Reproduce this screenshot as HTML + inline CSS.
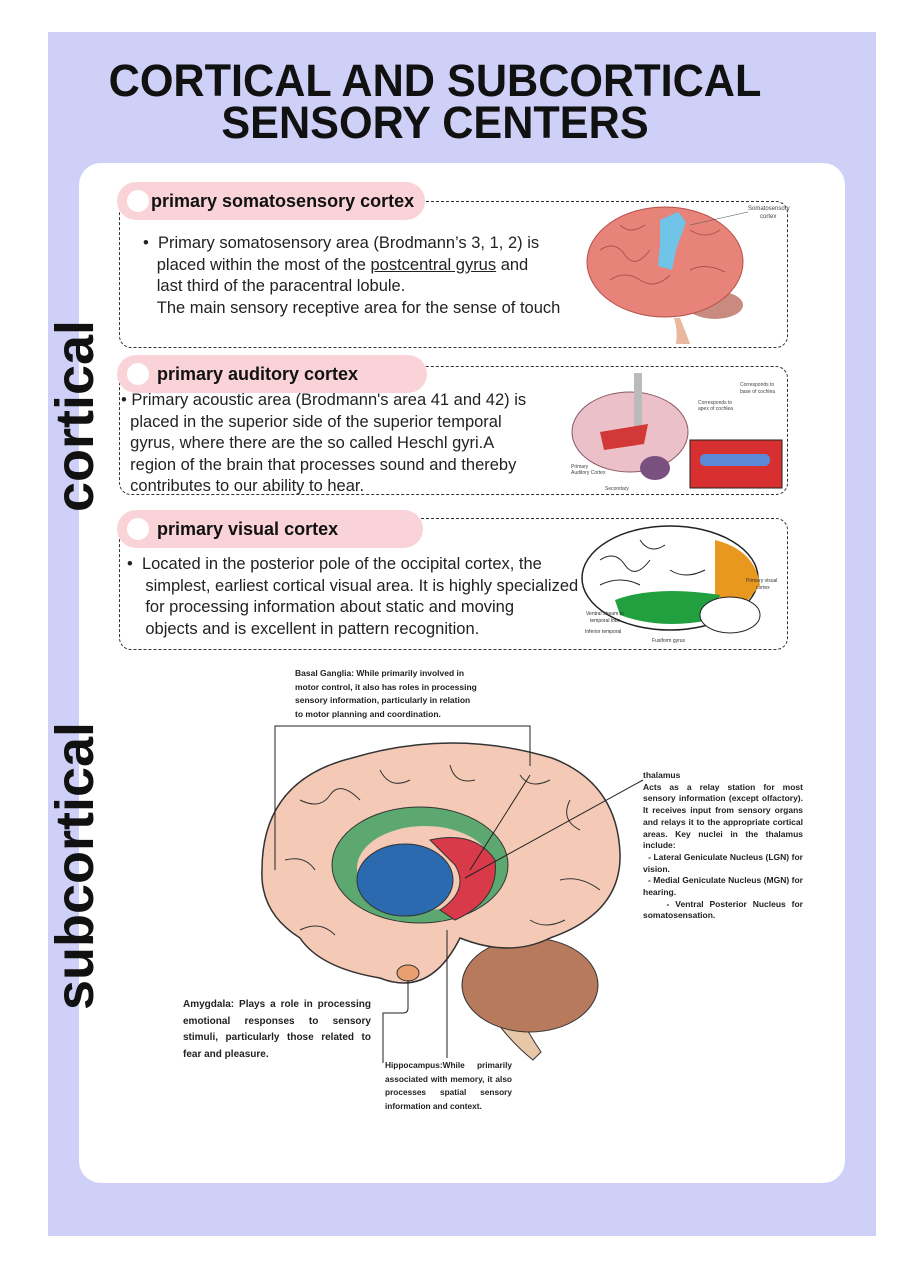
<!DOCTYPE html>
<html><head><meta charset="utf-8"><style>
*{margin:0;padding:0;box-sizing:border-box}
body{width:924px;height:1280px;background:#fff;position:relative;overflow:hidden;font-family:"Liberation Sans",sans-serif;color:#111}
.panel{position:absolute;left:48px;top:32px;width:828px;height:1204px;background:#cfd0f8}
.card{position:absolute;left:79px;top:163px;width:766px;height:1020px;background:#fff;border-radius:22px}
.title{position:absolute;left:60px;width:750px;text-align:center;font-weight:bold;font-size:45px;line-height:42px;transform:scaleX(0.96)}
.vert{position:absolute;font-weight:bold;font-size:54px;transform:rotate(-90deg);transform-origin:center;white-space:nowrap;text-align:center}
.box{position:absolute;border:1.3px dashed #333;border-radius:12px}
.pill{position:absolute;background:#f9d3d8;border-radius:20px;font-weight:bold;font-size:18px;padding-left:34px;line-height:38px}
.pill:before{content:"";position:absolute;left:10px;top:8px;width:22px;height:22px;border-radius:50%;background:#fff}
.txt{position:absolute;font-size:16.5px;line-height:21.5px;color:#222}
.sm{position:absolute;font-size:9px;line-height:13.5px;font-weight:bold;color:#222}
</style></head><body>
<div class="panel"></div>
<div class="card"></div>
<div class="title" style="top:60px">CORTICAL AND SUBCORTICAL</div>
<div class="title" style="top:102px">SENSORY CENTERS</div>
<div class="vert" style="left:-25px;top:385px;width:200px">cortical</div>
<div class="vert" style="left:-75px;top:835px;width:300px">subcortical</div>

<div class="box" style="left:119px;top:201px;width:669px;height:147px"></div>
<div class="pill" style="left:117px;top:182px;width:308px">primary somatosensory cortex</div>
<div class="txt" style="left:143px;top:233px">•&nbsp; Primary somatosensory area (Brodmann’s 3, 1, 2) is<br>&nbsp;&nbsp;&nbsp;placed within the most of the <u>postcentral gyrus</u> and<br>&nbsp;&nbsp;&nbsp;last third of the paracentral lobule.<br>&nbsp;&nbsp;&nbsp;The main sensory receptive area for the sense of touch</div>

<div class="box" style="left:119px;top:366px;width:669px;height:129px"></div>
<div class="pill" style="left:117px;top:355px;width:310px;padding-left:40px">primary auditory cortex</div>
<div class="txt" style="left:121px;top:390px">• Primary acoustic area (Brodmann's area 41 and 42) is<br>&nbsp;&nbsp;placed in the superior side of the superior temporal<br>&nbsp;&nbsp;gyrus, where there are the so called Heschl gyri.A<br>&nbsp;&nbsp;region of the brain that processes sound and thereby<br>&nbsp;&nbsp;contributes to our ability to hear.</div>

<div class="box" style="left:119px;top:518px;width:669px;height:132px"></div>
<div class="pill" style="left:117px;top:510px;width:306px;padding-left:40px">primary visual cortex</div>
<div class="txt" style="left:127px;top:554px">•&nbsp; Located in the posterior pole of the occipital cortex, the<br>&nbsp;&nbsp;&nbsp;&nbsp;simplest, earliest cortical visual area. It is highly specialized<br>&nbsp;&nbsp;&nbsp;&nbsp;for processing information about static and moving<br>&nbsp;&nbsp;&nbsp;&nbsp;objects and is excellent in pattern recognition.</div>

<svg style="position:absolute;left:0;top:0" width="924" height="1280">
<path d="M680 318 q8 20 10 26 l-14 0 q2-14 -2-26z" fill="#e9b89e"/>
<ellipse cx="715" cy="305" rx="28" ry="14" fill="#c98a80"/>
<ellipse cx="665" cy="262" rx="78" ry="55" fill="#e8837a" stroke="#b5504a"/>
<g fill="none" stroke="#b5504a" stroke-width="1"><path d="M600 250 q15 -10 25 5 t25 -5"/><path d="M610 280 q15 -10 30 0 t30 -5"/><path d="M690 230 q15 10 30 0"/><path d="M690 270 q15 -8 35 2"/><path d="M620 225 q10 10 25 0"/></g>
<path d="M660 220 l18 -8 l8 10 l-10 28 l-4 20 l-14 -4 l2-22z" fill="#6fc4e8"/>
<text x="748" y="210" font-size="6" fill="#444" font-family="Liberation Sans">Somatosensory</text>
<text x="760" y="218" font-size="6" fill="#444" font-family="Liberation Sans">cortex</text>
<line x1="690" y1="225" x2="748" y2="212" stroke="#555" stroke-width=".6"/>
<ellipse cx="630" cy="432" rx="58" ry="40" fill="#ecc0c8" stroke="#8a5a66"/>
<rect x="634" y="373" width="8" height="60" fill="#bbb"/>
<path d="M600 432 l48 -8 l-4 20 l-40 6z" fill="#d23838"/>
<ellipse cx="655" cy="468" rx="15" ry="12" fill="#7a5080"/>
<rect x="690" y="440" width="92" height="48" fill="#d83030" stroke="#222"/>
<rect x="700" y="454" width="70" height="12" rx="5" fill="#5a8ad8"/>
<text x="740" y="386" font-size="5" fill="#444" font-family="Liberation Sans">Corresponds to</text>
<text x="740" y="393" font-size="5" fill="#444" font-family="Liberation Sans">base of cochlea</text>
<text x="698" y="404" font-size="5" fill="#444" font-family="Liberation Sans">Corresponds to</text>
<text x="698" y="410" font-size="5" fill="#444" font-family="Liberation Sans">apex of cochlea</text>
<text x="571" y="468" font-size="5" fill="#444" font-family="Liberation Sans">Primary</text>
<text x="571" y="474" font-size="5" fill="#444" font-family="Liberation Sans">Auditory Cortex</text>
<text x="605" y="490" font-size="5" fill="#444" font-family="Liberation Sans">Secondary</text>
<ellipse cx="670" cy="578" rx="88" ry="52" fill="#fff" stroke="#222" stroke-width="1.5"/>
<path d="M715 540 q40 10 45 45 l-20 25 l-25 -15z" fill="#e8981e"/>
<path d="M615 600 q40 -15 105 -5 l-10 25 q-50 10 -90 -5z" fill="#22a040"/>
<ellipse cx="730" cy="615" rx="30" ry="18" fill="#fff" stroke="#222"/>
<g fill="none" stroke="#222" stroke-width="1"><path d="M600 560 q15 -10 25 5 t25 -5"/><path d="M640 540 q10 15 25 5"/><path d="M600 585 q20 -10 40 0"/><path d="M670 570 q15 10 35 0"/></g>
<text x="746" y="582" font-size="5" fill="#333" font-family="Liberation Sans">Primary visual</text>
<text x="756" y="589" font-size="5" fill="#333" font-family="Liberation Sans">cortex</text>
<text x="586" y="615" font-size="5" fill="#333" font-family="Liberation Sans">Ventral stream to</text>
<text x="590" y="622" font-size="5" fill="#333" font-family="Liberation Sans">temporal lobe</text>
<text x="585" y="633" font-size="5" fill="#333" font-family="Liberation Sans">Inferior temporal</text>
<text x="652" y="642" font-size="5" fill="#333" font-family="Liberation Sans">Fusiform gyrus</text>
<path d="M488 1010 q20 30 45 50 l8 -8 q-20 -30 -30 -55z" fill="#e8c6a8" stroke="#333"/>
<ellipse cx="530" cy="985" rx="68" ry="47" fill="#b87a5c" stroke="#333"/>
<path d="M262 870 q0 -90 90 -112 q100 -30 200 0 q65 25 68 95 q2 60 -70 85 q-40 20 -90 0 q-30 60 -80 40 q-60 -10 -80 -40 q-40 -25 -38 -68z" fill="#f4c9b6" stroke="#333" stroke-width="1.5"/>
<g fill="none" stroke="#333" stroke-width="1"><path d="M300 800 q20 10 30 -5 t30 5"/><path d="M380 770 q10 20 30 10"/><path d="M450 765 q5 20 25 15"/><path d="M520 775 q10 15 30 5"/><path d="M570 800 q-10 20 10 30"/><path d="M285 860 q20 -5 30 10"/><path d="M560 880 q20 -5 40 10"/><path d="M300 930 q20 -10 35 5"/><path d="M530 920 q15 10 35 0"/></g>
<ellipse cx="420" cy="865" rx="88" ry="58" fill="#5da870" stroke="#333"/>
<ellipse cx="425" cy="868" rx="68" ry="42" fill="#f4c9b6"/>
<path d="M430 840 q45 -10 65 20 q5 40 -40 60 l-15 -10 q30 -20 15 -45z" fill="#d83a4a" stroke="#333"/>
<ellipse cx="405" cy="880" rx="48" ry="36" fill="#2c6ab0" stroke="#333"/>
<ellipse cx="408" cy="973" rx="11" ry="8" fill="#e8a070" stroke="#333"/>
<g fill="none" stroke="#222" stroke-width="1">
<path d="M275 870 V726 h255 v40"/>
<line x1="530" y1="775" x2="470" y2="870"/>
<line x1="643" y1="780" x2="465" y2="878"/>
<path d="M408 980 v28 q0 5 -5 5 h-20 v50"/>
<line x1="447" y1="930" x2="447" y2="1058"/>
</g>
</svg>

<div class="sm" style="left:295px;top:667px;width:182px;font-size:8.5px">Basal Ganglia: While primarily involved in motor control, it also has roles in processing sensory information, particularly in relation to motor planning and coordination.</div>
<div class="sm" style="left:643px;top:770px;width:160px;font-size:8.5px;line-height:11.7px;text-align:justify">thalamus<br>Acts as a relay station for most sensory information (except olfactory). It receives input from sensory organs and relays it to the appropriate cortical areas. Key nuclei in the thalamus include:<br>&nbsp; - Lateral Geniculate Nucleus (LGN) for vision.<br>&nbsp; - Medial Geniculate Nucleus (MGN) for hearing.<br>&nbsp;&nbsp;&nbsp; - Ventral Posterior Nucleus for somatosensation.</div>
<div class="sm" style="left:183px;top:997px;width:188px;font-size:10px;line-height:16.5px;text-align:justify">Amygdala: Plays a role in processing emotional responses to sensory stimuli, particularly those related to fear and pleasure.</div>
<div class="sm" style="left:385px;top:1059px;width:127px;font-size:8.3px;text-align:justify">Hippocampus:While primarily associated with memory, it also processes spatial sensory information and context.</div>
</body></html>
